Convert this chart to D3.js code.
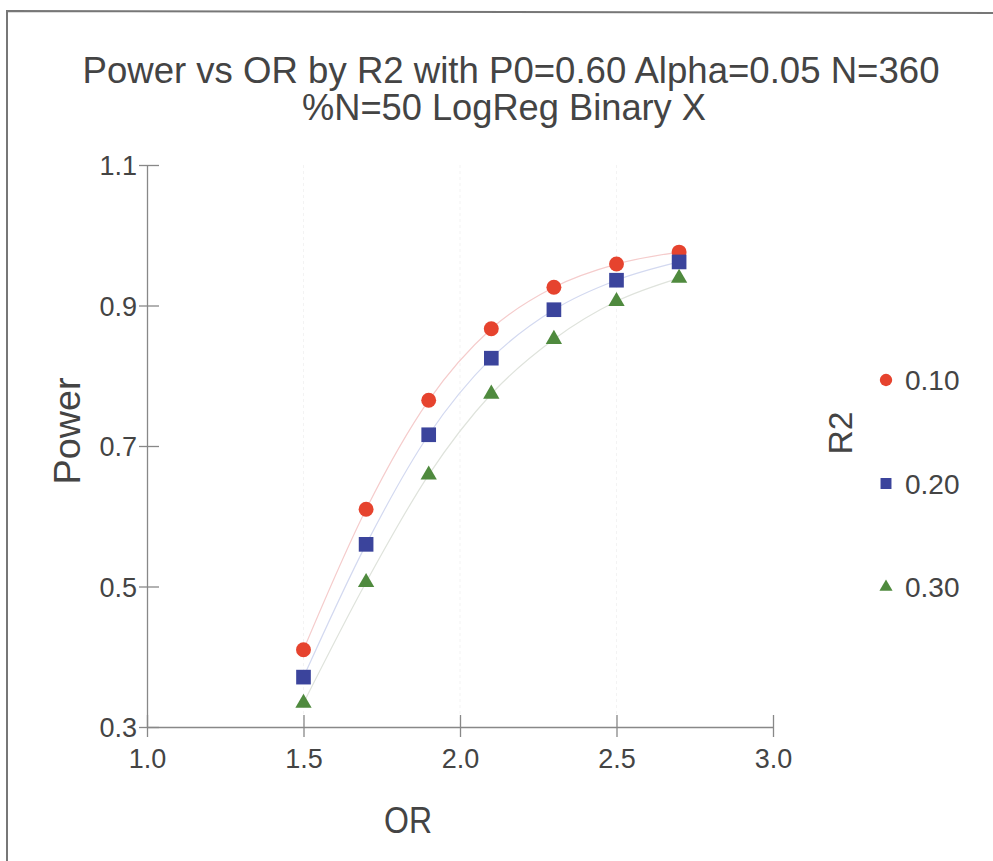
<!DOCTYPE html><html><head><meta charset="UTF-8"><script src="https://d3js.org/d3.v7.min.js"></script><style>
body { margin: 0; background: #fff; }
svg { display: block; font-family: "Liberation Sans", Arial, sans-serif; }
.axis path, .axis line { stroke: #888; stroke-width: 1.3; }
</style></head><body><div id="chart"></div><script>
const oddsRatio = [1.5, 1.7, 1.9, 2.1, 2.3, 2.5, 2.7];
const r2Levels = ["0.10", "0.20", "0.30"];
const power010 = [0.410, 0.610, 0.765, 0.867, 0.926, 0.959, 0.976];
const power020 = [0.371, 0.560, 0.716, 0.825, 0.894, 0.936, 0.962];
const power030 = [0.334, 0.506, 0.659, 0.774, 0.852, 0.906, 0.939];
const xTicks = [1.0, 1.5, 2.0, 2.5, 3.0];
const yTicks = [0.3, 0.5, 0.7, 0.9, 1.1];

const series = [
    {name: r2Levels[0], values: power010, color: "#e6432e", line: "#f5cccc", shape: d3.symbolCircle, size: 175},
    {name: r2Levels[1], values: power020, color: "#3b449c", line: "#d3d9f0", shape: d3.symbolSquare, size: 215},
    {name: r2Levels[2], values: power030, color: "#4f8a3e", line: "#dfe3dc", shape: d3.symbolTriangle, size: 115}
];

const W = 993, H = 861;
const svg = d3.select("#chart").append("svg").attr("width", W).attr("height", H);

// scanned frame (left and top edges)
svg.append("path").attr("d", "M7,861 L7,11 L993,13")
    .attr("fill", "none").attr("stroke", "#777").attr("stroke-width", 2);

const x = d3.scaleLinear().domain([1.0, 3.0]).range([147, 773]);
const y = d3.scaleLinear().domain([0.3, 1.1]).range([727, 165]);

// faint vertical grid
svg.append("g").selectAll("line").data([1.5, 2.0, 2.5]).enter().append("line")
    .attr("x1", d => x(d)).attr("x2", d => x(d))
    .attr("y1", y(1.1)).attr("y2", y(0.3))
    .attr("stroke", "#f3f3f3").attr("stroke-dasharray", "3,3");

const xAxis = svg.append("g").attr("class", "axis")
    .attr("transform", `translate(0,${y(0.3)})`)
    .call(d3.axisBottom(x).tickValues(xTicks).tickFormat(d3.format(".1f")).tickSize(10).tickSizeOuter(0));
xAxis.selectAll(".tick line").attr("y1", -12);
xAxis.selectAll(".tick text").attr("y", 41).attr("dy", null)
    .attr("font-size", 27).attr("fill", "#444");

const yAxis = svg.append("g").attr("class", "axis")
    .attr("transform", `translate(${x(1.0)},0)`)
    .call(d3.axisLeft(y).tickValues(yTicks).tickFormat(d3.format(".1f")).tickSize(8).tickSizeOuter(0));
yAxis.selectAll(".tick line").attr("x1", 12);
yAxis.selectAll(".tick text").attr("x", -10).attr("dy", "0.36em")
    .attr("font-size", 27).attr("fill", "#444");

const line = d3.line().x((d, i) => x(oddsRatio[i])).y(d => y(d)).curve(d3.curveMonotoneX);

series.forEach(s => {
    svg.append("path").datum(s.values)
        .attr("fill", "none").attr("stroke", s.line).attr("stroke-width", 1.2)
        .attr("d", line);
});

series.forEach(s => {
    svg.append("g").selectAll("path").data(s.values).enter().append("path")
        .attr("transform", (d, i) => `translate(${x(oddsRatio[i])},${y(d)})`)
        .attr("d", d3.symbol().type(s.shape).size(s.size))
        .attr("fill", s.color);
});

// titles
const title = svg.append("g").attr("fill", "#444").attr("font-size", 37).attr("text-anchor", "middle");
title.append("text").attr("x", 511).attr("y", 83)
    .attr("textLength", 857).attr("lengthAdjust", "spacingAndGlyphs")
    .text("Power vs OR by R2 with P0=0.60 Alpha=0.05 N=360");
title.append("text").attr("x", 504).attr("y", 120)
    .attr("textLength", 404).attr("lengthAdjust", "spacingAndGlyphs")
    .text("%N=50 LogReg Binary X");

svg.append("text").attr("x", 408).attr("y", 833).attr("text-anchor", "middle")
    .attr("fill", "#444").attr("font-size", 36)
    .attr("textLength", 48).attr("lengthAdjust", "spacingAndGlyphs").text("OR");
svg.append("text").attr("transform", "translate(80,431) rotate(-90)").attr("text-anchor", "middle")
    .attr("fill", "#444").attr("font-size", 37)
    .attr("textLength", 107).attr("lengthAdjust", "spacingAndGlyphs").text("Power");
svg.append("text").attr("transform", "translate(852,433) rotate(-90)").attr("text-anchor", "middle")
    .attr("fill", "#444").attr("font-size", 34)
    .attr("textLength", 43).attr("lengthAdjust", "spacingAndGlyphs").text("R2");

// legend
const legY = d3.scalePoint().domain(r2Levels).range([380, 587]);
const leg = svg.append("g").selectAll("g").data(series).enter().append("g")
    .attr("transform", d => `translate(886,${legY(d.name)})`);
leg.append("path")
    .attr("d", d => d3.symbol().type(d.shape).size(d.shape === d3.symbolTriangle ? 75 : 120)())
    .attr("fill", d => d.color);
leg.append("text").attr("x", 19).attr("dy", "0.36em")
    .attr("fill", "#444").attr("font-size", 28)
    .text(d => d.name);
</script></body></html>
